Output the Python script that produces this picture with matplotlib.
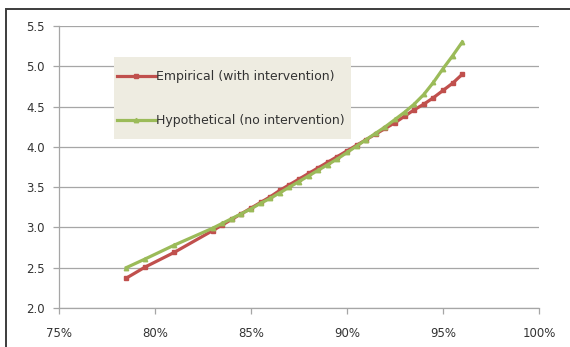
import matplotlib
matplotlib.use("Agg")
import matplotlib.pyplot as plt
from matplotlib.patches import Rectangle

# Share of population covered (x) and resulting outcome (y) for each scenario
coverage = [0.785, 0.795, 0.81, 0.83, 0.835, 0.84, 0.845, 0.85, 0.855, 0.86,
            0.865, 0.87, 0.875, 0.88, 0.885, 0.89, 0.895, 0.90, 0.905, 0.91,
            0.915, 0.92, 0.925, 0.93, 0.935, 0.94, 0.945, 0.95, 0.955, 0.96]

empirical = [2.37, 2.51, 2.69, 2.96, 3.03, 3.10, 3.17, 3.24, 3.31, 3.38,
             3.46, 3.53, 3.60, 3.67, 3.74, 3.81, 3.88, 3.95, 4.02, 4.09,
             4.16, 4.23, 4.30, 4.38, 4.46, 4.53, 4.61, 4.70, 4.79, 4.90]

hypothetical = [2.50, 2.61, 2.78, 2.99, 3.05, 3.11, 3.17, 3.23, 3.30, 3.36,
                3.43, 3.50, 3.57, 3.64, 3.71, 3.78, 3.85, 3.93, 4.01, 4.09,
                4.17, 4.25, 4.34, 4.43, 4.53, 4.65, 4.80, 4.97, 5.13, 5.30]

series_labels = ["Empirical (with intervention)", "Hypothetical (no intervention)"]

x_ticks = [0.75, 0.80, 0.85, 0.90, 0.95, 1.00]
x_tick_labels = ["75%", "80%", "85%", "90%", "95%", "100%"]
y_ticks = [2.0, 2.5, 3.0, 3.5, 4.0, 4.5, 5.0, 5.5]
y_tick_labels = ["2.0", "2.5", "3.0", "3.5", "4.0", "4.5", "5.0", "5.5"]

RED = "#C0504D"
GREEN = "#9BBB59"
GRID = "#A6A6A6"
TEXT = "#333333"

W, H = 570, 347
fig = plt.figure(figsize=(W / 100, H / 100), dpi=100)
fig.patch.set_facecolor("white")

# plot area in pixel terms: x 59..539, y 26..308
ax = fig.add_axes([59 / W, 1 - 308 / H, 480 / W, 282 / H])

ax.plot(coverage, empirical, color=RED, lw=2.3, marker="s", ms=3.0,
        mec=RED, mfc=RED, label=series_labels[0], zorder=3, clip_on=False)
ax.plot(coverage, hypothetical, color=GREEN, lw=2.3, marker="^", ms=3.2,
        mec=GREEN, mfc=GREEN, label=series_labels[1], zorder=4, clip_on=False)

ax.set_xlim(x_ticks[0], x_ticks[-1])
ax.set_ylim(y_ticks[0], y_ticks[-1])
ax.set_xticks(x_ticks)
ax.set_xticklabels(x_tick_labels)
ax.set_yticks(y_ticks)
ax.set_yticklabels(y_tick_labels)

ax.yaxis.grid(True, color=GRID, lw=0.9, zorder=0)
ax.set_axisbelow(True)
for side in ("top", "right"):
    ax.spines[side].set_visible(False)
for side in ("left", "bottom"):
    ax.spines[side].set_color(GRID)
    ax.spines[side].set_linewidth(0.9)

ax.tick_params(axis="both", colors=GRID, width=0.9, length=4.5,
               labelsize=8.5, labelcolor=TEXT, direction="out")
ax.tick_params(axis="x", pad=9.5)
ax.tick_params(axis="y", pad=5.5)

# beige legend panel
ax.add_patch(Rectangle((55 / 480, (308 - 139) / 282), 237 / 480, 82 / 282,
                       transform=ax.transAxes, facecolor="#EEECE1",
                       edgecolor="none", zorder=2.5))
leg = ax.legend(loc="upper left", bbox_to_anchor=(58 / 480, (308 - 70) / 282),
                frameon=False, fontsize=9, handlelength=3.1, handletextpad=0.0,
                labelspacing=2.5, borderpad=0, borderaxespad=0)
for t in leg.get_texts():
    t.set_color(TEXT)

# outer chart frame (top and left edges visible)
top = 1 - 9 / H
fig.add_artist(Rectangle((6 / W, -0.2), 1.2, top + 0.2,
                         transform=fig.transFigure, fill=False,
                         edgecolor="#3C3C3C", lw=1.4, clip_on=False))

fig.savefig("out.png", dpi=100, facecolor="white")
